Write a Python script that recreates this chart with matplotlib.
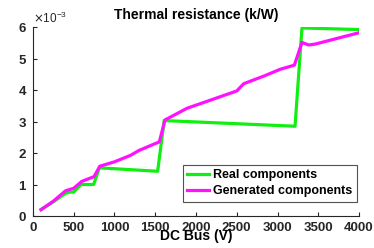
import matplotlib
matplotlib.use("Agg")
import matplotlib.pyplot as plt
from matplotlib.ticker import ScalarFormatter

plt.rcParams['font.family'] = ['Liberation Sans', 'DejaVu Sans']

real_x = [100, 250, 400, 450, 500, 590, 745, 815, 1530, 1610, 3215, 3300, 4000]
real_y = [0.21, 0.45, 0.72, 0.76, 0.76, 1.0, 1.0, 1.53, 1.42, 3.03, 2.85, 5.97, 5.92]

gen_x = [100, 250, 400, 500, 600, 750, 820, 1000, 1200, 1300, 1500, 1550, 1620, 1890, 2500, 2585, 2830, 3035, 3207, 3300, 3383, 3465, 4000]
gen_y = [0.2, 0.47, 0.8, 0.88, 1.1, 1.25, 1.58, 1.72, 1.93, 2.08, 2.3, 2.35, 3.05, 3.42, 3.97, 4.2, 4.44, 4.66, 4.79, 5.51, 5.43, 5.46, 5.82]

scale = 1e-3
fig = plt.figure(figsize=(3.74, 2.48), dpi=100)
ax = fig.add_axes([0.088, 0.129, 0.872, 0.762])
ax.plot(real_x, [v * scale for v in real_y], color='#11ee11', lw=2.3, label='Real components')
ax.plot(gen_x, [v * scale for v in gen_y], color='#ff11ff', lw=2.3, label='Generated components')

ax.set_xlim(0, 4000)
ax.set_ylim(0, 6e-3)
ax.set_xticks([0, 500, 1000, 1500, 2000, 2500, 3000, 3500, 4000])
ax.set_yticks([0, 1e-3, 2e-3, 3e-3, 4e-3, 5e-3, 6e-3])
fmt = ScalarFormatter(useMathText=True)
fmt.set_powerlimits((-2, 2))
ax.yaxis.set_major_formatter(fmt)
ax.yaxis.get_offset_text().set_fontsize(8.5)

for s in ['top', 'right']:
    ax.spines[s].set_visible(False)
for s in ['left', 'bottom']:
    ax.spines[s].set_color('#262626')
    ax.spines[s].set_linewidth(0.8)
ax.tick_params(direction='in', length=3, width=0.8, colors='#262626', labelsize=9.5, pad=4)
for lab in ax.get_xticklabels() + ax.get_yticklabels():
    lab.set_fontweight('bold')

ax.set_title('Thermal resistance (k/W)', fontsize=10, fontweight='bold', pad=6)
ax.set_xlabel('DC Bus (V)', fontsize=10, fontweight='bold', labelpad=-3)

leg = ax.legend(loc='lower right', bbox_to_anchor=(0.993, 0.075),
                prop={'weight': 'bold', 'size': 9}, frameon=True, fancybox=False,
                handlelength=1.8, handletextpad=0.3, borderpad=0.35, labelspacing=0.35,
                borderaxespad=0)
leg.get_frame().set_edgecolor('#262626')
leg.get_frame().set_linewidth(0.8)

fig.savefig('out.png', dpi=100)
